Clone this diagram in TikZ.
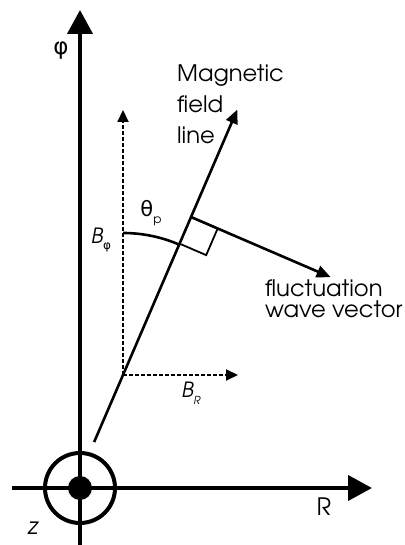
\documentclass[tikz,border=0pt]{standalone}
\usepackage{fontspec}
\setmainfont{TeX Gyre Adventor}
\newfontfamily\grk{DejaVu Sans}
\usetikzlibrary{arrows.meta, calc, positioning}

\begin{document}
\begin{tikzpicture}[x=1pt, y=1pt,
    axis/.style={line width=4pt, -{Triangle[length=24pt, width=25pt]}},
    comp/.style={line width=2pt, dash pattern=on 4pt off 2pt, -{Triangle[length=12pt, width=11pt]}},
    vec/.style={line width=2.6pt, -{Triangle[length=14pt, width=12pt]}},
    lbl/.style={font=\fontsize{22.7}{22.7}\selectfont, inner sep=0pt},
    mlbl/.style={font=\fontsize{21}{21}\selectfont, inner sep=0pt}]
    \useasboundingbox (0,0) rectangle (404,545);

    % 坐标轴
    \coordinate (O) at (80,57);
    \coordinate (phibot) at (80,0);
    \coordinate (phitop) at (80,535);
    \coordinate (Rleft) at (12,57);
    \coordinate (Rright) at (372,57);
    \draw[axis] (phibot) -- (phitop);
    \draw[axis] (Rleft) -- (Rright);
    \node[lbl, font=\fontsize{23}{23}\selectfont\grk] (philbl) at (61,494) {φ};
    \node[lbl, font=\fontsize{24}{24}\selectfont] (Rlbl) at (324,38) {R};

    % z 方向
    \draw[line width=4pt] (O) circle (35);
    \fill (O) circle (12);
    \node[lbl, font=\fontsize{23}{23}\selectfont\itshape] (zlbl) at (33,17) {z};

    % 磁力线
    \coordinate (P) at (123,170);
    \coordinate (Bbase) at ($(P)+(246.7:73)$);
    \coordinate (Btip) at ($(P)+(66.7:289)$);
    \draw[vec] (Bbase) -- (Btip);
    \node[lbl, anchor=base west] (mag) at (177,463) {Magnetic};
    \node[lbl, anchor=base west] (fld) at (177,432) {field};
    \node[lbl, anchor=base west] (lin) at (177,401) {line};

    % 分量
    \coordinate (Bphitip) at (123,435);
    \coordinate (BRtip) at (238,170);
    \draw[comp] (P) -- (Bphitip);
    \draw[comp] (P) -- (BRtip);
    \node[mlbl] (Bphi) at (101,305) {\itshape B\raisebox{-0.6ex}{\fontsize{12}{12}\selectfont\upshape\grk φ}};
    \node[mlbl] (BR) at (191,152) {\itshape B\raisebox{-0.6ex}{\fontsize{11}{11}\selectfont R}};

    % 角度
    \draw[line width=2.6pt] ($(P)+(0,142)$) arc[start angle=90, end angle=66.7, radius=142];
    \node[mlbl] (theta) at (151,332) {{\grk θ}\raisebox{-0.6ex}{\fontsize{12}{12}\selectfont p}};

    % 波矢
    \coordinate (F) at ($(P)+(66.7:172)$);
    \coordinate (Ktip) at ($(F)+(-23.3:152)$);
    \draw[vec] (F) -- (Ktip);
    \draw[line width=1.8pt] (F) -- ++(-23.3:29) -- ++(246.7:29) -- ++(156.7:29);
    \node[lbl, anchor=base west] (flu) at (265,248) {fluctuation};
    \node[lbl, anchor=base west] (wav) at (265,227) {wave vector};
\end{tikzpicture}
\end{document}
